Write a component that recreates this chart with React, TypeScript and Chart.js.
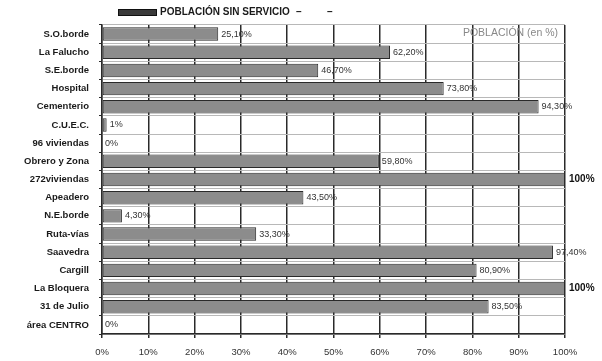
import React, { useEffect, useRef } from "react";
import { Chart, registerables } from "chart.js";

Chart.register(...registerables);

const categories = [
  "S.O.borde",
  "La Falucho",
  "S.E.borde",
  "Hospital",
  "Cementerio",
  "C.U.E.C.",
  "96 viviendas",
  "Obrero y Zona",
  "272viviendas",
  "Apeadero",
  "N.E.borde",
  "Ruta-vías",
  "Saavedra",
  "Cargill",
  "La Bloquera",
  "31 de Julio",
  "área CENTRO",
];

const sinServicio = [25.1, 62.2, 46.7, 73.8, 94.3, 1, 0, 59.8, 100, 43.5, 4.3, 33.3, 97.4, 80.9, 100, 83.5, 0];

const xTicks = [0, 10, 20, 30, 40, 50, 60, 70, 80, 90, 100];

const seriesName = "POBLACIÓN SIN SERVICIO";
const axisNote = "POBLACIÓN (en %)";

const FONT = "'Liberation Sans', Arial, sans-serif";

function fmt(v: number): string {
  if (Number.isInteger(v)) return `${v}%`;
  return v.toFixed(2).replace(".", ",") + "%";
}

const labelsPlugin = {
  id: "barLabels",
  afterDatasetsDraw(chart: any) {
    const ctx = chart.ctx;
    const meta = chart.getDatasetMeta(0);
    const data = chart.data.datasets[0].data as number[];
    const area = chart.chartArea;
    ctx.save();
    ctx.textBaseline = "middle";
    ctx.textAlign = "left";
    meta.data.forEach((bar: any, i: number) => {
      const v = data[i];
      if (v >= 100) {
        ctx.font = `bold 10px ${FONT}`;
        ctx.fillStyle = "#111";
        ctx.fillText(fmt(v), area.right + 4, bar.y);
      } else {
        ctx.font = `9px ${FONT}`;
        ctx.fillStyle = "#333";
        ctx.fillText(fmt(v), bar.x + 3, bar.y);
      }
    });
    // axis note inside plot
    ctx.font = `10.5px ${FONT}`;
    ctx.fillStyle = "#888";
    ctx.textAlign = "right";
    ctx.fillText(axisNote, area.right - 7, area.top + 8);
    ctx.restore();
  },
};

const legendPlugin = {
  id: "customLegend",
  afterDraw(chart: any) {
    const ctx = chart.ctx;
    ctx.save();
    ctx.fillStyle = "#3a3a3a";
    ctx.fillRect(118, 9, 39, 7);
    ctx.strokeStyle = "#111";
    ctx.lineWidth = 1;
    ctx.strokeRect(118.5, 9.5, 38, 6);
    ctx.font = `bold 10px ${FONT}`;
    ctx.fillStyle = "#1a1a1a";
    ctx.textBaseline = "middle";
    ctx.textAlign = "left";
    ctx.fillText(seriesName, 160, 12.5);
    ctx.fillText("–", 296, 12.5);
    ctx.fillText("–", 327, 12.5);
    ctx.restore();
  },
};

export default function App() {
  const ref = useRef<HTMLCanvasElement | null>(null);
  useEffect(() => {
    if (!ref.current) return;
    const chart = new Chart(ref.current, {
      type: "bar",
      data: {
        labels: categories,
        datasets: [
          {
            label: seriesName,
            data: sinServicio,
            backgroundColor: "#8c8c8c",
            borderColor: "#2a2a2a",
            borderWidth: 1,
            borderSkipped: false,
            barPercentage: 0.74,
            categoryPercentage: 1,
          },
        ],
      },
      options: {
        indexAxis: "y",
        animation: false,
        responsive: true,
        maintainAspectRatio: false,
        layout: { padding: { left: 0, right: 37, top: 25, bottom: 0 } },
        plugins: {
          legend: { display: false },
          tooltip: { enabled: false },
          title: { display: false },
        },
        scales: {
          x: {
            type: "linear",
            min: 0,
            max: 100,
            afterBuildTicks: (scale: any) => {
              scale.ticks = xTicks.map((v) => ({ value: v }));
            },
            afterFit: (scale: any) => {
              scale.height = 27;
            },
            ticks: {
              callback: (v: any) => `${v}%`,
              font: { family: FONT, size: 9.5 },
              color: "#333",
              padding: 9,
            },
            grid: {
              color: "#2a2a2a",
              lineWidth: 1.5,
              tickLength: 4,
              tickColor: "#2a2a2a",
            },
            border: { color: "#2a2a2a", width: 1.5 },
          },
          y: {
            afterFit: (scale: any) => {
              scale.width = 102;
            },
            ticks: {
              font: { family: FONT, size: 9.5, weight: "bold" },
              color: "#1a1a1a",
              padding: 10,
              autoSkip: false,
            },
            grid: {
              offset: true,
              color: "#b8b8b8",
              lineWidth: 1,
              tickLength: 3,
              tickColor: "#2a2a2a",
            },
            border: { color: "#2a2a2a", width: 1.5 },
          },
        },
      },
      plugins: [labelsPlugin, legendPlugin],
    });
    return () => chart.destroy();
  }, []);
  return (
    <div style={{ position: "fixed", left: 0, top: 0, width: 602, height: 361, background: "#fff" }}>
      <canvas ref={ref} />
    </div>
  );
}
